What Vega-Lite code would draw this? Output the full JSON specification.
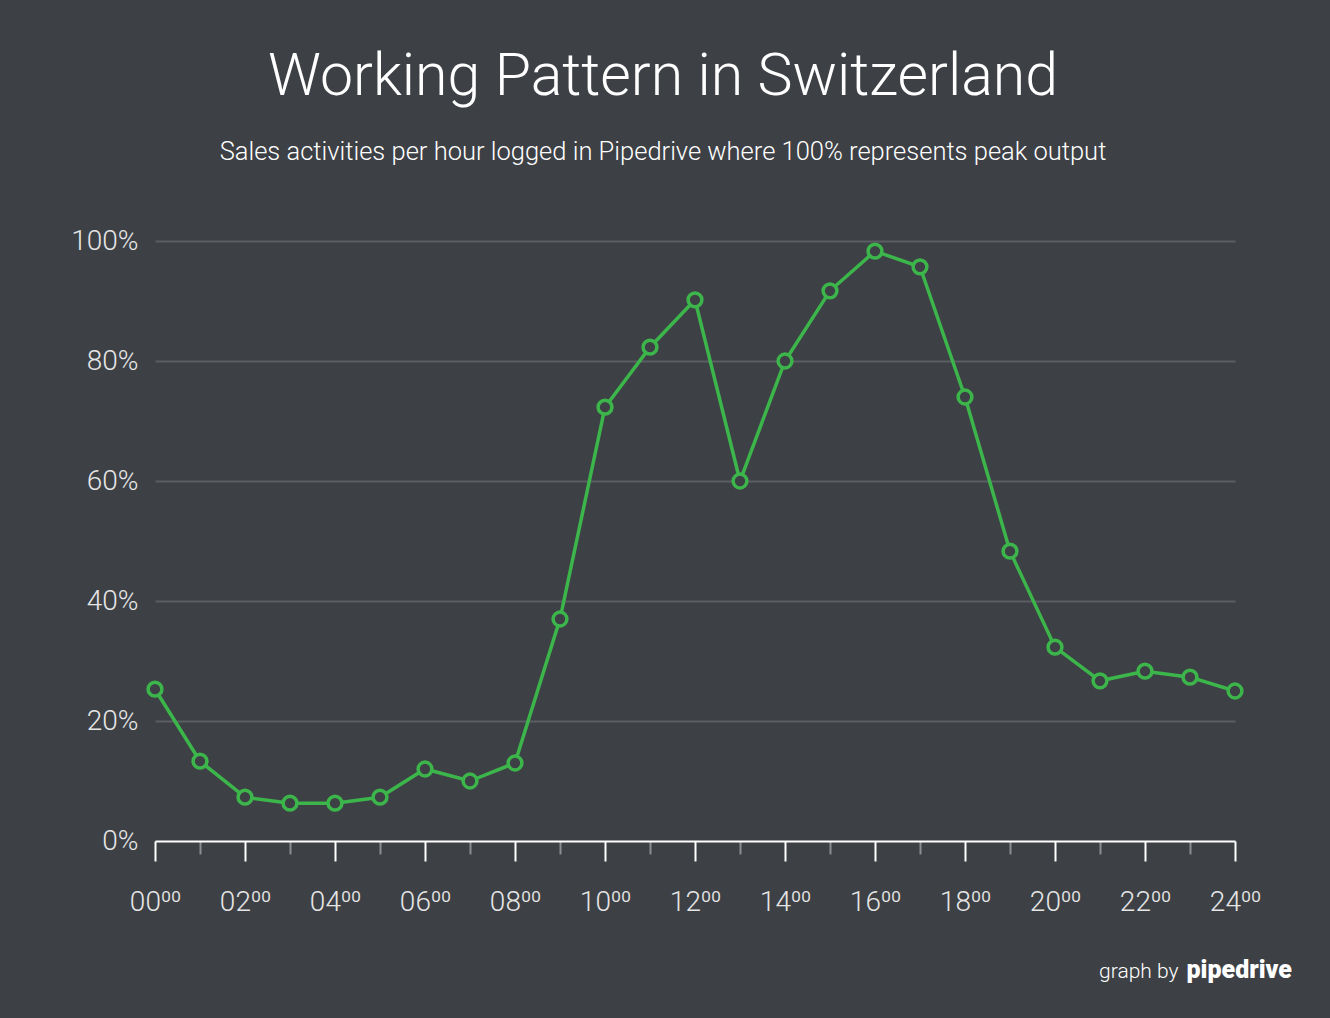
{
  "$schema": "https://vega.github.io/schema/vega-lite/v6.json",
  "width": 1080,
  "height": 600,
  "autosize": "none",
  "padding": {"left": 155, "top": 241, "right": 95, "bottom": 177},
  "background": "#3d4045",
  "title": {
    "text": "Working Pattern in Switzerland",
    "subtitle": "Sales activities per hour logged in Pipedrive where 100% represents peak output",
    "anchor": "middle",
    "dx": -32,
    "offset": 62,
    "font": "Roboto",
    "fontWeight": 300,
    "fontSize": 59,
    "color": "#ffffff",
    "subtitleFont": "Roboto",
    "subtitleFontWeight": 300,
    "subtitleFontSize": 25.5,
    "subtitleColor": "#ffffff",
    "subtitlePadding": 33
  },
  "config": {
    "view": {"stroke": null},
    "axis": {"labelFont": "Roboto", "titleFont": "Roboto"}
  },
  "data": {
    "values": [
      {"hour": 0, "value": 25.3},
      {"hour": 1, "value": 13.3},
      {"hour": 2, "value": 7.3},
      {"hour": 3, "value": 6.3},
      {"hour": 4, "value": 6.3},
      {"hour": 5, "value": 7.3},
      {"hour": 6, "value": 12.0},
      {"hour": 7, "value": 10.0},
      {"hour": 8, "value": 13.0},
      {"hour": 9, "value": 37.0},
      {"hour": 10, "value": 72.3},
      {"hour": 11, "value": 82.3},
      {"hour": 12, "value": 90.2},
      {"hour": 13, "value": 60.0},
      {"hour": 14, "value": 80.0},
      {"hour": 15, "value": 91.7},
      {"hour": 16, "value": 98.3},
      {"hour": 17, "value": 95.7},
      {"hour": 18, "value": 74.0},
      {"hour": 19, "value": 48.3},
      {"hour": 20, "value": 32.3},
      {"hour": 21, "value": 26.7},
      {"hour": 22, "value": 28.3},
      {"hour": 23, "value": 27.3},
      {"hour": 24, "value": 25.0}
    ]
  },
  "encoding": {
    "x": {
      "field": "hour",
      "type": "quantitative",
      "scale": {"domain": [0, 24], "nice": false},
      "axis": {
        "values": [0,1,2,3,4,5,6,7,8,9,10,11,12,13,14,15,16,17,18,19,20,21,22,23,24],
        "labelExpr": "datum.value % 2 === 0 ? (datum.value < 10 ? '0' : '') + datum.value + '\u2070\u2070' : ''",
        "grid": false,
        "domainColor": "#ffffff",
        "domainWidth": 2,
        "ticks": true,
        "tickColor": {"condition": {"test": "datum.value % 2 === 0", "value": "#ffffff"}, "value": "#8a8d91"},
        "tickSize": {"condition": {"test": "datum.value % 2 === 0", "value": 20}, "value": 13},
        "tickWidth": 2,
        "labelFontSize": 28,
        "labelFontWeight": 300,
        "labelColor": "#e6e6e6",
        "labelPadding": 27,
        "labelOverlap": false,
        "labelFlush": false,
        "title": "graph by",
        "titleColor": "#ffffff",
        "titleFontSize": 21,
        "titleFontWeight": 300,
        "titleAlign": "right",
        "titleAnchor": null,
        "titleBaseline": "alphabetic",
        "titleX": 1023,
        "titleY": 136
      }
    },
    "y": {
      "field": "value",
      "type": "quantitative",
      "scale": {"domain": [0, 100], "nice": false},
      "axis": {
        "values": [0, 20, 40, 60, 80, 100],
        "labelExpr": "datum.value + '%'",
        "domain": false,
        "ticks": false,
        "grid": true,
        "gridColor": {"condition": {"test": "datum.value === 0", "value": "rgba(0,0,0,0)"}, "value": "#5b5e63"},
        "gridWidth": 2,
        "labelFontSize": 28,
        "labelFontWeight": 300,
        "labelColor": "#e6e6e6",
        "labelPadding": 17,
        "title": "pipedrive",
        "titleColor": "#ffffff",
        "titleFontSize": 25,
        "titleFontWeight": 900,
        "titleAngle": 0,
        "titleAlign": "left",
        "titleBaseline": "alphabetic",
        "titleAnchor": null,
        "titleX": 1031,
        "titleY": 736
      }
    }
  },
  "layer": [
    {
      "mark": {"type": "line", "color": "#3cb64b", "strokeWidth": 3.5}
    },
    {
      "mark": {"type": "point", "filled": false, "fill": "#3d4045", "fillOpacity": 1, "stroke": "#3cb64b", "strokeWidth": 3.5, "size": 190, "opacity": 1}
    }
  ]
}
